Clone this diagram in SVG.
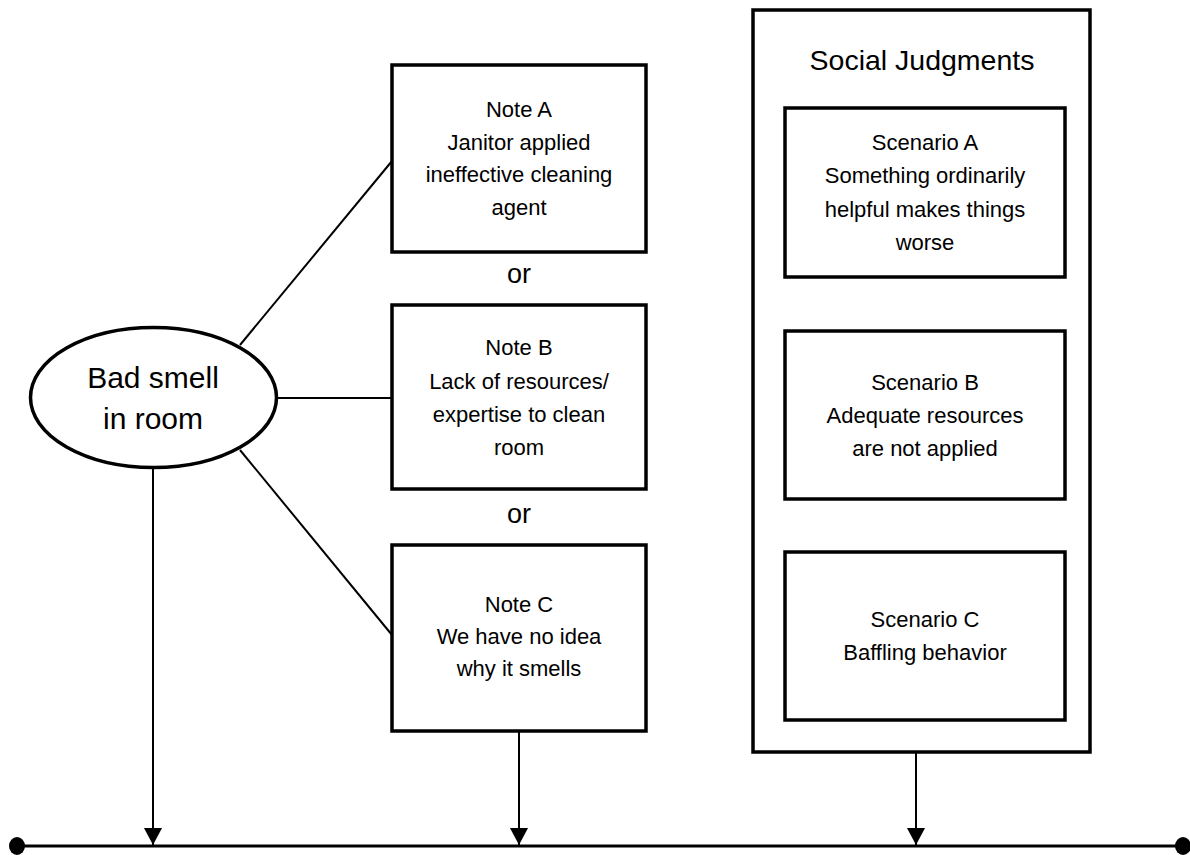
<svg xmlns="http://www.w3.org/2000/svg" width="1190" height="855" viewBox="0 0 1190 855">
<style>
.box{fill:#fff;stroke:#000;stroke-width:3.5}
.t{font-family:"Liberation Sans",Arial,sans-serif;font-size:22px;fill:#000;text-anchor:middle}
.big{font-size:30px}
.hd{font-size:28.5px}
.or{font-size:27px}
.ln{stroke:#000;stroke-width:2;fill:none}
</style>
<defs>
<marker id="ah" markerWidth="18" markerHeight="17" refX="9" refY="17" orient="auto-start-reverse" markerUnits="userSpaceOnUse" viewBox="0 0 18 17">
<path d="M0,0 L18,0 L9,17 Z" fill="#000"/>
</marker>
</defs>
<rect width="1190" height="855" fill="#fff"/>
<g id="connectors">
<line class="ln" x1="240" y1="345" x2="392" y2="161"/>
<line class="ln" x1="277" y1="398" x2="392" y2="398"/>
<line class="ln" x1="240" y1="450" x2="392" y2="635"/>
<line class="ln" x1="153" y1="468" x2="153" y2="845"/>
<path d="M144,828 L162,828 L153,845 Z" fill="#000"/>
<line class="ln" x1="519" y1="731" x2="519" y2="845"/>
<path d="M510,828 L528,828 L519,845 Z" fill="#000"/>
<line class="ln" x1="916" y1="752" x2="916" y2="845"/>
<path d="M907,828 L925,828 L916,845 Z" fill="#000"/>
<line x1="17" y1="846" x2="1183" y2="846" stroke="#000" stroke-width="3"/>
<ellipse cx="17" cy="846" rx="8" ry="9" fill="#000"/>
<ellipse cx="1183" cy="846" rx="8" ry="9" fill="#000"/>
</g>
<g id="bad-smell">
<ellipse class="box" cx="153.5" cy="397.5" rx="123" ry="70"/>
<text class="t big" x="153" y="388">Bad smell</text>
<text class="t big" x="153" y="429">in room</text>
</g>
<g id="note-a">
<rect class="box" x="392" y="65" width="254" height="187"/>
<text class="t" x="519" y="117">Note A</text>
<text class="t" x="519" y="150">Janitor applied</text>
<text class="t" x="519" y="182">ineffective cleaning</text>
<text class="t" x="519" y="215">agent</text>
</g>
<g id="or-1"><text class="t or" x="519" y="283">or</text></g>
<g id="note-b">
<rect class="box" x="392" y="305" width="254" height="184"/>
<text class="t" x="519" y="355">Note B</text>
<text class="t" x="519" y="389">Lack of resources/</text>
<text class="t" x="519" y="422">expertise to clean</text>
<text class="t" x="519" y="455">room</text>
</g>
<g id="or-2"><text class="t or" x="519" y="523">or</text></g>
<g id="note-c">
<rect class="box" x="392" y="545" width="254" height="186"/>
<text class="t" x="519" y="612">Note C</text>
<text class="t" x="519" y="644">We have no idea</text>
<text class="t" x="519" y="676">why it smells</text>
</g>
<g id="social-judgments">
<rect class="box" x="753" y="10" width="337" height="742"/>
<text class="t hd" x="922" y="70">Social Judgments</text>
</g>
<g id="scenario-a">
<rect class="box" x="785" y="108" width="280" height="169"/>
<text class="t" x="925" y="150">Scenario A</text>
<text class="t" x="925" y="183">Something ordinarily</text>
<text class="t" x="925" y="217">helpful makes things</text>
<text class="t" x="925" y="250">worse</text>
</g>
<g id="scenario-b">
<rect class="box" x="785" y="331" width="280" height="168"/>
<text class="t" x="925" y="390">Scenario B</text>
<text class="t" x="925" y="423">Adequate resources</text>
<text class="t" x="925" y="456">are not applied</text>
</g>
<g id="scenario-c">
<rect class="box" x="785" y="552" width="280" height="168"/>
<text class="t" x="925" y="627">Scenario C</text>
<text class="t" x="925" y="660">Baffling behavior</text>
</g>
</svg>
